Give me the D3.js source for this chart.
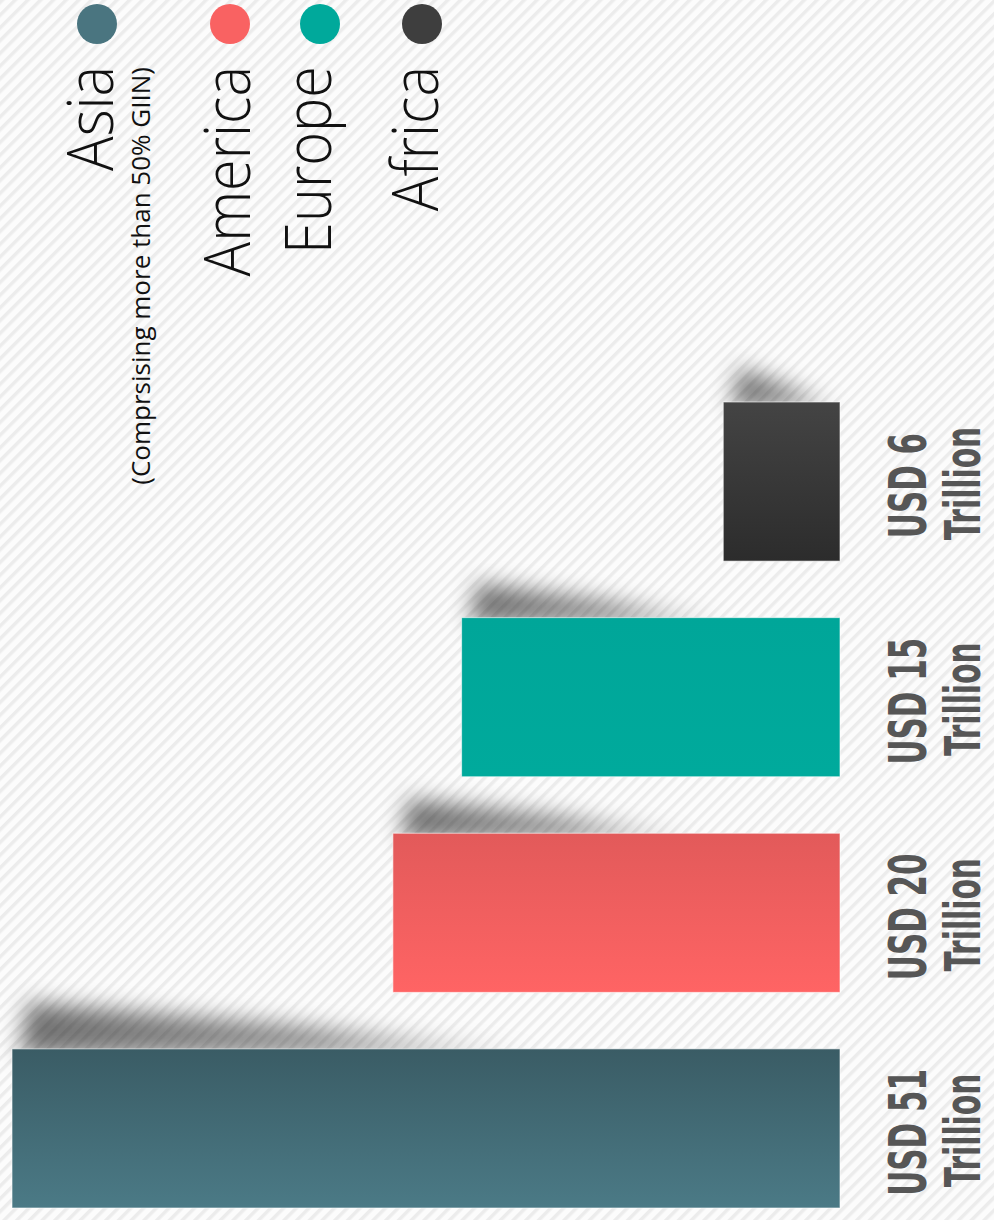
<!DOCTYPE html>
<html>
<head>
<meta charset="utf-8">
<script src="https://cdn.jsdelivr.net/npm/d3@7"></script>
<style>
  html, body { margin: 0; padding: 0; background: #fbfbfb; }
  svg { display: block; }
</style>
</head>
<body>
<svg id="chart" width="994" height="1220"></svg>
<script>
// ---- data ----
const regions = ["Africa", "Europe", "America", "Asia"];
const amounts = [6, 15, 20, 51];                 // USD trillion, as labelled
const barLengths = [14.1, 45.7, 54.0, 100];      // drawn bar length, % of longest bar (infographic is not to scale)
const amountLabels = ["USD 6", "USD 15", "USD 20", "USD 51"];
const unitLabel = "Trillion";
const legendNames = ["Asia", "America", "Europe", "Africa"];
const legendNote = "(Comprsising more than 50% GIIN)";
const colorTop = { Asia: "#3a5c65", America: "#e25a5a", Europe: "#00a699", Africa: "#444444" };
const colorBottom = { Asia: "#4b7a86", America: "#ff6464", Europe: "#00aa9c", Africa: "#2c2c2c" };
const legendColor = { Asia: "#4a7580", America: "#f96262", Europe: "#00a99b", Africa: "#3e3e3e" };

const svg = d3.select("#chart");
const W = 994, H = 1220;
const defs = svg.append("defs");

// background pinstripes
const pat = defs.append("pattern").attr("id", "stripes")
  .attr("patternUnits", "userSpaceOnUse").attr("width", 9).attr("height", 9)
  .attr("patternTransform", "rotate(45)");
pat.append("rect").attr("width", 9).attr("height", 9).attr("fill", "#fcfcfc");
pat.append("rect").attr("width", 3.5).attr("height", 9).attr("fill", "#ececec");
svg.append("rect").attr("width", W).attr("height", H).attr("fill", "url(#stripes)");

// filters & gradients
defs.append("filter").attr("id", "blur").attr("x", "-50%").attr("y", "-150%").attr("width", "200%").attr("height", "400%")
  .append("feGaussianBlur").attr("stdDeviation", 11);
regions.forEach(r => {
  const g = defs.append("linearGradient").attr("id", "g-" + r).attr("x1", 0).attr("y1", 0).attr("x2", 0).attr("y2", 1);
  g.append("stop").attr("offset", "0%").attr("stop-color", colorTop[r]);
  g.append("stop").attr("offset", "100%").attr("stop-color", colorBottom[r]);
});
const sg = defs.append("linearGradient").attr("id", "shadowGrad").attr("x1", 0).attr("y1", 0).attr("x2", 1).attr("y2", 0);
sg.append("stop").attr("offset", "0%").attr("stop-color", "#000").attr("stop-opacity", 0.55);
sg.append("stop").attr("offset", "55%").attr("stop-color", "#000").attr("stop-opacity", 0.4);
sg.append("stop").attr("offset", "100%").attr("stop-color", "#000").attr("stop-opacity", 0);

// scales
const baseX = 840;
const x = d3.scaleLinear().domain([0, 100]).range([0, 828]);
const y = d3.scaleBand().domain(regions).range([402, 1208]).paddingInner(0.262).paddingOuter(0);

const data = regions.map((r, i) => ({ region: r, amount: amounts[i], len: barLengths[i], label: amountLabels[i] }));

// shadows
svg.append("g").selectAll("path").data(data).join("path")
  .attr("d", d => {
    const w = x(d.len), xl = baseX - w, top = y(d.region);
    const L = 0.6 * w + 50, Hh = d.region === "Asia" ? 46 : 34;
    return `M${xl + 8},${top + 6} L${xl + L},${top + 6} L${xl + L * 0.5},${top - Hh * 0.55} L${xl + 16},${top - Hh} Z`;
  })
  .attr("fill", "url(#shadowGrad)")
  .attr("filter", "url(#blur)");

// bars
svg.append("g").selectAll("rect").data(data).join("rect")
  .attr("x", d => baseX - x(d.len))
  .attr("y", d => y(d.region))
  .attr("width", d => x(d.len))
  .attr("height", y.bandwidth())
  .attr("fill", d => "url(#g-" + d.region + ")")
  .attr("stroke", "rgba(255,255,255,0.6)")
  .attr("stroke-width", 1);

// value labels
const labFont = "'Liberation Sans Narrow','DejaVu Sans Condensed','Roboto',sans-serif";
const lab = svg.append("g").selectAll("g").data(data).join("g");
lab.append("text")
  .attr("transform", d => `translate(926,${y(d.region) + y.bandwidth() / 2 + 4}) rotate(-90) scale(0.66,1)`)
  .attr("text-anchor", "middle")
  .style("font-family", labFont).style("font-weight", 700).style("font-size", "52px")
  .attr("fill", "#565656")
  .text(d => d.label);
lab.append("text")
  .attr("transform", d => `translate(980,${y(d.region) + y.bandwidth() / 2 + 2}) rotate(-90) scale(0.66,1)`)
  .attr("text-anchor", "middle")
  .style("font-family", labFont).style("font-weight", 700).style("font-size", "50px")
  .attr("fill", "#565656")
  .text(unitLabel);

// legend (layout constants)
const legendBase = [113, 250, 331, 438];
const legendDot = [97, 230, 320, 422];
const lg = svg.append("g");
legendNames.forEach((n, i) => {
  lg.append("circle").attr("cx", legendDot[i]).attr("cy", 24).attr("r", 20).attr("fill", legendColor[n]);
  lg.append("text")
    .attr("transform", `translate(${legendBase[i]},66) rotate(-90) scale(0.9,1)`)
    .attr("text-anchor", "end")
    .style("font-family", "'Open Sans','Noto Sans',sans-serif").style("font-weight", 300).style("font-size", "64px")
    .attr("fill", "#111")
    .text(n);
});
lg.append("text")
  .attr("transform", `translate(150,67) rotate(-90)`)
  .attr("text-anchor", "end")
  .style("font-family", "'Open Sans','Noto Sans',sans-serif").style("font-weight", 400).style("font-size", "26px")
  .attr("fill", "#111")
  .text(legendNote);
</script>
</body>
</html>
